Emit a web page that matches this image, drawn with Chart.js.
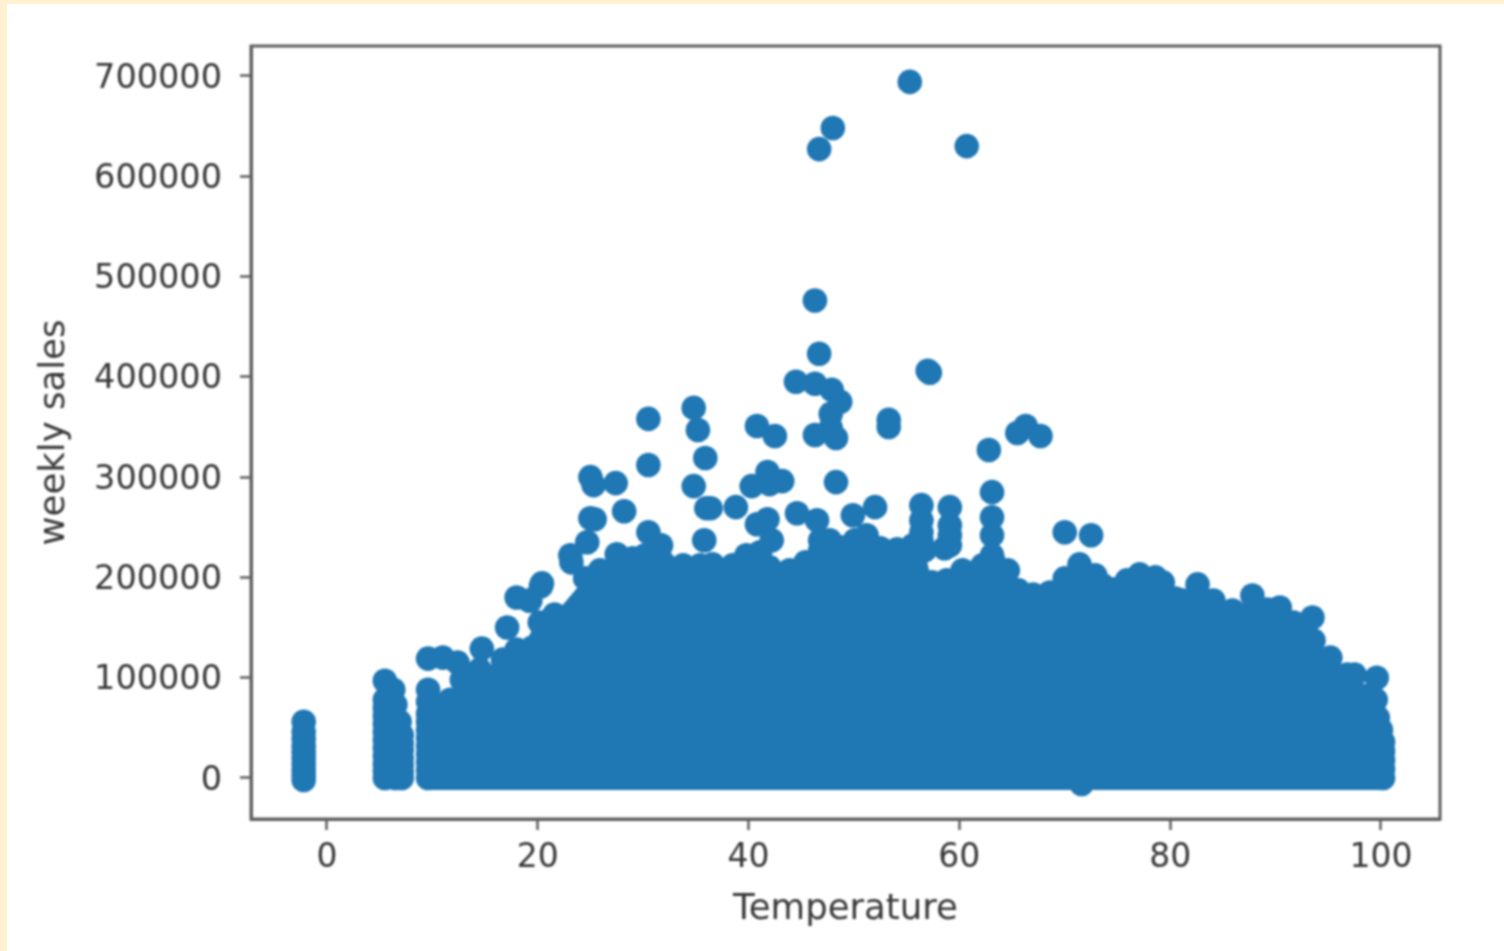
<!DOCTYPE html>
<html>
<head>
<meta charset="utf-8">
<script src="https://cdn.jsdelivr.net/npm/chart.js@4"></script>
<style>
html,body{margin:0;padding:0;width:1504px;height:951px;overflow:hidden;background:#FFF1D2;}
#sheet{position:absolute;left:7px;top:4px;width:1497px;height:947px;background:#fff;}
#c{position:absolute;left:0;top:0;filter:blur(1px);}
</style>
</head>
<body>
<div id="sheet"></div>
<canvas id="c" width="1504" height="951"></canvas>
<script>
const xTicks = [0,20,40,60,80,100];
const yTicks = [0,100000,200000,300000,400000,500000,600000,700000];

// upper edge of the dense cloud
const denseTemp = [9.6,9.6,9.6,9.6,9.6,9.6,9.6,9.6,9.6,9.6,9.6,11.7,12.8,14.5,16.7,18.0,19.5,20.3,21.6,24.5,25.9,27.5,29.0,30.2,31.9,32.7,33.8,35.4,36.6,38.5,39.8,41.1,42.0,43.9,45.4,46.8,47.7,48.7,50.1,51.2,52.5,53.4,54.1,55.6,56.7,57.4,58.8,60.3,62.2,63.2,64.6,65.6,67.0,68.6,70.0,71.4,72.9,73.6,74.8,75.9,77.1,78.6,79.3,80.5,81.2,82.6,84.1,85.9,87.8,89.2,90.4,91.7,93.5,93.6,95.2,96.8,97.5,98.3,99.5,99.7,100.0,100.2,100.2,100.2,100.2,100.2];
const denseSales = [0,8000,16000,24000,32000,40000,48000,56000,64000,76000,88000,78000,98000,108000,118000,128000,130000,138000,163000,199000,207000,223000,219000,222000,215000,197000,212000,212000,213000,212000,222000,225000,210000,207000,215000,227000,232000,230000,237000,242000,229000,217000,228000,232000,227000,195000,197000,207000,212000,217000,207000,187000,183000,185000,199000,213000,202000,192000,188000,197000,203000,200000,195000,179000,177000,193000,177000,167000,182000,168000,170000,155000,160000,137000,120000,103000,103000,82000,78000,60000,48000,36000,27000,18000,9000,0];

// separate points above the cloud and the cold-weather columns
const looseTemp = [55.3,48.0,46.7,60.7,46.3,46.7,57.0,57.2,44.5,46.3,47.9,48.7,47.8,47.8,46.3,48.3,53.3,53.3,30.5,30.5,34.8,35.2,35.9,34.8,36.0,36.4,38.8,40.8,42.5,25.0,25.3,27.4,25.0,25.4,28.2,24.7,23.1,23.2,20.3,19.2,18.0,19.3,20.4,17.1,14.7,9.6,11.0,12.4,20.2,30.5,31.7,35.8,40.3,41.8,43.2,42.0,48.3,52.0,49.9,44.6,46.5,47.7,46.8,41.8,40.8,42.2,56.4,56.4,56.4,56.4,59.1,59.1,59.1,59.1,58.6,62.8,63.1,63.1,63.1,63.1,66.3,65.5,67.7,70.0,72.5,71.6,99.6,-2.2,-2.2,-2.2,-2.2,-2.2,-2.2,-2.2,-2.2,-2.2,-2.2,5.5,5.5,5.5,5.5,5.5,5.5,5.5,5.5,5.5,5.5,5.5,5.5,6.3,6.5,6.5,6.5,6.5,6.5,6.5,6.9,7.1,7.1,7.1,7.1,7.1,7.1,7.1];
const looseSales = [694000,648000,627000,630000,476000,423000,406000,404000,395000,393000,387000,375000,363000,349000,342000,339000,357000,350000,358000,312000,369000,347000,319000,291000,269000,269000,270000,351000,341000,300000,292000,294000,259000,258000,266000,235000,222000,215000,191000,177000,180000,177000,194000,150000,129000,119000,120000,115000,155000,245000,232000,237000,291000,305000,296000,293000,295000,270000,262000,264000,257000,237000,237000,258000,253000,237000,272000,257000,245000,237000,270000,252000,242000,232000,229000,327000,285000,260000,242000,222000,351000,344000,341000,245000,242000,-6000,100000,56000,46000,39000,32000,26000,20000,14000,8000,3000,-2000,97000,78000,70000,62000,54000,46000,38000,30000,22000,14000,7000,0,88000,73000,60000,45000,30000,15000,0,56000,43000,35000,28000,20000,13000,6000,0];

const markColor = '#1f77b4';
const inkColor = '#383838';
const spineColor = '#5e5e5e';

const frame = {
  id:'frame',
  afterDatasetsDraw(chart){
    const a = chart.chartArea, g = chart.ctx;
    g.save();
    g.strokeStyle = spineColor;
    g.lineWidth = 3;
    g.strokeRect(a.left, a.top, a.right-a.left, a.bottom-a.top);
    g.restore();
  }
};

new Chart(document.getElementById('c'), {
  type:'scatter',
  data:{datasets:[
    {label:'cloud',
     data:denseTemp.map((x,i)=>({x,y:denseSales[i]})),
     showLine:true, borderWidth:0, tension:0,
     backgroundColor:markColor, pointBackgroundColor:markColor,
     pointRadius:12.3, pointBorderWidth:0,
     fill:{value:-12000}},
    {label:'points',
     data:looseTemp.map((x,i)=>({x,y:looseSales[i]})),
     backgroundColor:markColor, pointRadius:12.3, pointBorderWidth:0}
  ]},
  options:{
    responsive:false, animation:false,
    events:[],
    layout:{padding:{top:46,right:64,left:0,bottom:0}},
    plugins:{legend:{display:false},title:{display:false},tooltip:{enabled:false}},
    scales:{
      x:{type:'linear',min:-7.2,max:105.6,
        afterBuildTicks:s=>{s.ticks=xTicks.map(value=>({value}));},
        afterFit:s=>{s.height=132;},
        border:{color:spineColor,width:3},
        grid:{drawOnChartArea:false,drawTicks:true,tickLength:11,tickColor:spineColor,tickWidth:2.5},
        ticks:{autoSkip:false,maxRotation:0,minRotation:0,padding:9,color:inkColor,font:{family:'"DejaVu Sans"',size:33},callback:v=>String(v)},
        title:{display:true,text:'Temperature',color:inkColor,font:{family:'"DejaVu Sans"',size:35.5},padding:{top:0,bottom:20}}
      },
      y:{type:'linear',min:-40900,max:729800,
        afterBuildTicks:s=>{s.ticks=yTicks.map(value=>({value}));},
        afterFit:s=>{s.width=251;},
        border:{color:spineColor,width:3},
        grid:{drawOnChartArea:false,drawTicks:true,tickLength:11,tickColor:spineColor,tickWidth:2.5},
        ticks:{autoSkip:false,padding:18,labelOffset:3,color:inkColor,font:{family:'"DejaVu Sans"',size:33.5},callback:v=>String(v)},
        title:{display:true,text:'weekly sales',color:inkColor,font:{family:'"DejaVu Sans"',size:35.5},padding:{top:33,bottom:0}}
      }
    }
  },
  plugins:[frame]
});
</script>
</body>
</html>
